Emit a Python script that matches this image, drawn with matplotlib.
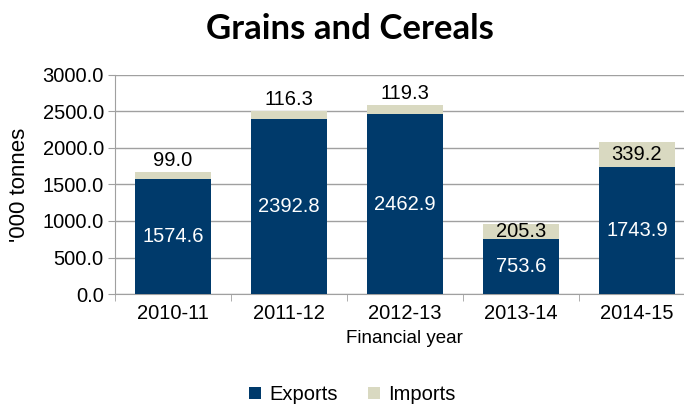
import matplotlib.pyplot as plt
import numpy as np

plt.rcParams['font.family'] = ['Liberation Sans', 'DejaVu Sans']

years = ['2010-11', '2011-12', '2012-13', '2013-14', '2014-15']
exports = [1574.6, 2392.8, 2462.9, 753.6, 1743.9]
imports = [99.0, 116.3, 119.3, 205.3, 339.2]

navy = '#003A6B'
beige = '#D9D9C1'
grid_c = '#A0A0A0'

fig = plt.figure(figsize=(6.84, 4.09), dpi=100)
ax = fig.add_axes([0.168, 0.281, 0.848, 0.536])

x = np.arange(len(years))
w = 0.66
ax.bar(x, exports, w, color=navy, zorder=3, label='Exports')
ax.bar(x, imports, w, bottom=exports, color=beige, zorder=3, label='Imports')

# value labels
for i in range(len(years)):
    ax.text(x[i], exports[i] / 2, f'{exports[i]:.1f}', color='white',
            ha='center', va='center', fontsize=14.5, zorder=4)
    top = exports[i] + imports[i]
    if imports[i] < 150:
        ax.text(x[i], top + 30, f'{imports[i]:.1f}', color='black',
                ha='center', va='bottom', fontsize=14.5, zorder=4)
    else:
        ax.text(x[i], exports[i] + imports[i] / 2, f'{imports[i]:.1f}', color='black',
                ha='center', va='center', fontsize=14.5, zorder=4)

ax.set_ylim(0, 3000)
ax.set_xlim(-0.5, len(years) - 0.5)
ax.set_yticks(np.arange(0, 3001, 500))
ax.set_yticklabels([f'{v:.1f}' for v in np.arange(0, 3001, 500)], fontsize=14.5)
ax.yaxis.grid(True, color=grid_c, linewidth=1, zorder=0)

ax.set_xticks(x)
ax.set_xticklabels(years, fontsize=14.5)
ax.set_xticks(np.arange(-0.5, len(years)), minor=True)
ax.tick_params(axis='x', which='major', length=0, pad=7)
ax.tick_params(axis='x', which='minor', length=5, color=grid_c, direction='out')
ax.tick_params(axis='y', length=5, color=grid_c, direction='out', pad=3)

for s in ['top', 'right']:
    ax.spines[s].set_visible(False)
ax.spines['left'].set_color(grid_c)
ax.spines['bottom'].set_color(grid_c)

ax.set_ylabel("'000 tonnes", fontsize=16, labelpad=9)
ax.set_xlabel('Financial year', fontsize=13.5, labelpad=5)

fig.text(0.511, 0.93, 'Grains and Cereals', ha='center', va='center',
         fontsize=25, fontweight='bold', family=['Lato', 'DejaVu Sans'])

fig.legend(loc='center', bbox_to_anchor=(0.515, 0.035), ncol=2, frameon=False,
           fontsize=14.5, handlelength=0.6, handleheight=0.6, handletextpad=0.4,
           columnspacing=1.5)

fig.savefig('out.png', dpi=100)
